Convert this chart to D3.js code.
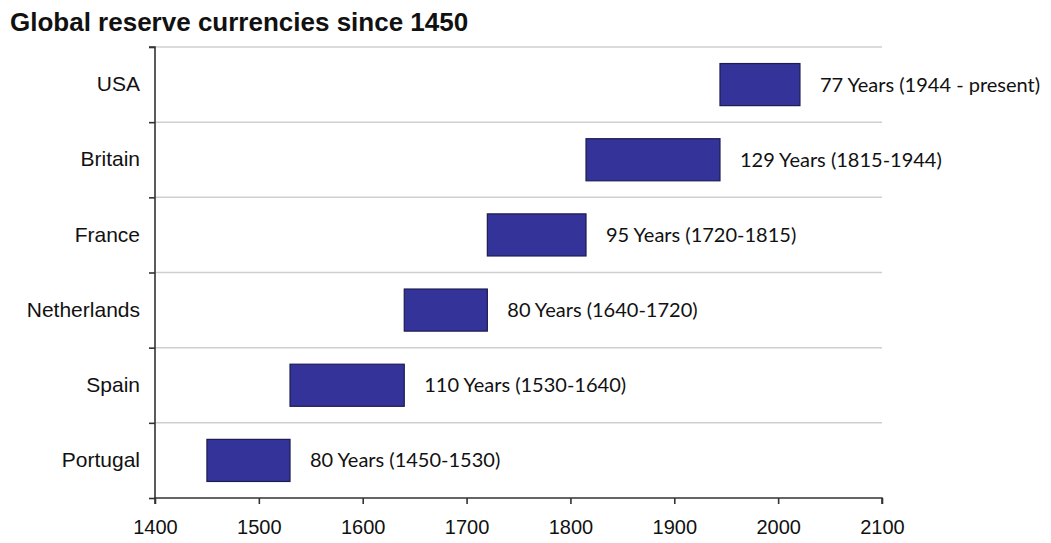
<!DOCTYPE html>
<html>
<head>
<meta charset="utf-8">
<script src="https://cdn.jsdelivr.net/npm/d3@7"></script>
<style>
  html, body { margin: 0; padding: 0; background: #fff; }
  svg { display: block; }
</style>
</head>
<body>
<svg id="chart" width="1051" height="543"></svg>
<script>
// Reserve-currency eras, oldest at the bottom
const countries   = ["USA", "Britain", "France", "Netherlands", "Spain", "Portugal"];
const startYears  = [1944, 1815, 1720, 1640, 1530, 1450];
const endYears    = [2021, 1944, 1815, 1720, 1640, 1530];
const spanLabels  = [
  "77 Years (1944 - present)",
  "129 Years (1815-1944)",
  "95 Years (1720-1815)",
  "80 Years (1640-1720)",
  "110 Years (1530-1640)",
  "80 Years (1450-1530)"
];
const yearTicks   = [1400, 1500, 1600, 1700, 1800, 1900, 2000, 2100];

const rows = countries.map((c, i) => ({
  country: c, start: startYears[i], end: endYears[i], label: spanLabels[i]
}));

const svg = d3.select("#chart");
const plot = { left: 155, right: 882, top: 47, bottom: 498 };

const x = d3.scaleLinear()
  .domain([yearTicks[0], yearTicks[yearTicks.length - 1]])
  .range([plot.left, plot.right]);

const y = d3.scaleBand()
  .domain(countries)
  .range([plot.top, plot.bottom])
  .padding(0);

// band boundaries used for gridlines and y ticks
const bounds = d3.range(countries.length + 1);
const yb = d3.scaleLinear().domain([0, countries.length]).range([plot.top, plot.bottom]);

// Title
svg.append("text")
  .attr("x", 10).attr("y", 31)
  .attr("font-family", "Liberation Sans, Arial, sans-serif")
  .attr("font-weight", "bold")
  .attr("font-size", 26)
  .attr("fill", "#111")
  .text("Global reserve currencies since 1450");

// Horizontal gridlines at row boundaries
svg.append("g")
  .selectAll("line")
  .data(bounds.slice(0, -1))
  .join("line")
  .attr("x1", plot.left).attr("x2", plot.right)
  .attr("y1", d => yb(d)).attr("y2", d => yb(d))
  .attr("stroke", "#cfcfcf")
  .attr("stroke-width", 1.5);

// Bars
const barH = y.bandwidth() * 0.56;
svg.append("g")
  .selectAll("rect")
  .data(rows)
  .join("rect")
  .attr("x", d => x(d.start))
  .attr("width", d => x(d.end) - x(d.start))
  .attr("y", d => y(d.country) + (y.bandwidth() - barH) / 2)
  .attr("height", barH)
  .attr("fill", "#333399")
  .attr("stroke", "#1c1c50")
  .attr("stroke-width", 1.2);

// Span annotations to the right of each bar
svg.append("g")
  .selectAll("text")
  .data(rows)
  .join("text")
  .attr("x", d => x(d.end) + 20)
  .attr("y", d => y(d.country) + y.bandwidth() / 2)
  .attr("dy", "0.35em")
  .attr("font-family", "Lato, Open Sans, sans-serif")
  .attr("font-size", 20)
  .attr("fill", "#111")
  .text(d => d.label);

// Y axis: line, boundary ticks, centred country labels
const yAxis = svg.append("g").attr("transform", `translate(${plot.left},0)`);
yAxis.call(d3.axisLeft(yb).tickValues(bounds).tickSize(6).tickFormat(""));
yAxis.select(".domain").attr("d", `M-6,${plot.top}H0V${plot.bottom}`);
yAxis.selectAll("path, line").attr("stroke", "#333").attr("stroke-width", 1.6);

const yLabels = svg.append("g").attr("transform", `translate(${plot.left},0)`);
yLabels.call(d3.axisLeft(y).tickSize(0).tickPadding(15));
yLabels.select(".domain").remove();
yLabels.selectAll("text")
  .attr("font-family", "Liberation Sans, Arial, sans-serif")
  .attr("font-size", 21)
  .attr("fill", "#111");

// X axis
const xAxis = svg.append("g").attr("transform", `translate(0,${plot.bottom})`);
xAxis.call(d3.axisBottom(x).tickValues(yearTicks).tickSize(6).tickPadding(16).tickFormat(d3.format("d")));
xAxis.select(".domain").attr("d", `M${plot.left},6V0H${plot.right}V6`);
xAxis.selectAll("path, line").attr("stroke", "#333").attr("stroke-width", 1.6);
xAxis.selectAll("text")
  .attr("font-family", "Liberation Sans, Arial, sans-serif")
  .attr("font-size", 20)
  .attr("fill", "#111");
</script>
</body>
</html>
